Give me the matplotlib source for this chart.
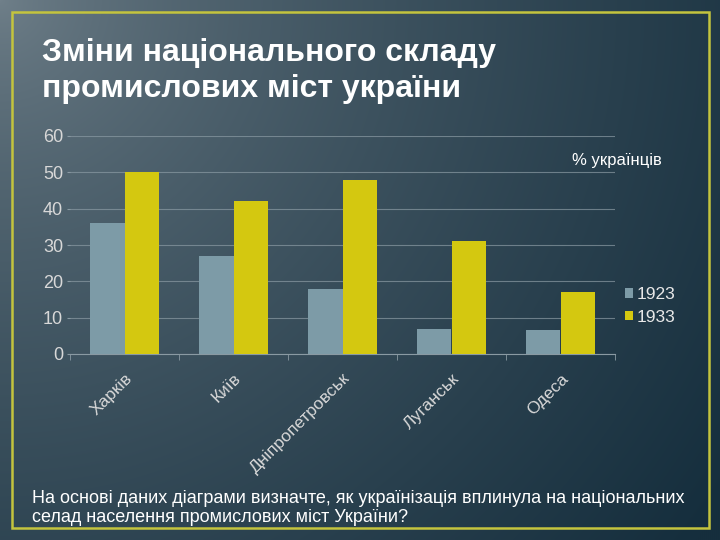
import matplotlib.pyplot as plt
import numpy as np

cities = ['Харків', 'Київ', 'Дніпропетровськ', 'Луганськ', 'Одеса']
ukr_1923 = [36, 27, 18, 7, 6.5]
ukr_1933 = [50, 42, 48, 31, 17]
years = ['1923', '1933']
yticks = [0, 10, 20, 30, 40, 50, 60]

title = 'Зміни національного складу\nпромислових міст україни'
note = 'На основі даних діаграми визначте, як українізація вплинула на національних\nселад населення промислових міст України?'

plt.rcParams['font.family'] = ['Liberation Sans', 'DejaVu Sans']

fig = plt.figure(figsize=(7.2, 5.4), dpi=100)

# фон: радіальний градієнт від лівого верхнього кута
bg = fig.add_axes([0, 0, 1, 1])
yy, xx = np.mgrid[0:540:270j, 0:720:360j]
t = np.clip(np.hypot(xx, yy) / 880, 0, 1) ** 0.7
c0 = np.array([0x70, 0x80, 0x8a]) / 255
c1 = np.array([0x15, 0x2e, 0x3d]) / 255
img = c0[None, None, :] * (1 - t[..., None]) + c1[None, None, :] * t[..., None]
bg.imshow(img, aspect='auto', extent=[0, 1, 1, 0], interpolation='bilinear')
bg.set_xlim(0, 1)
bg.set_ylim(1, 0)
bg.axis('off')

# рамка
bg.add_patch(plt.Rectangle((12 / 720, 12 / 540), 697 / 720, 516 / 540,
                           fill=False, edgecolor='#c4c43e', linewidth=1.8))

bg.text(42 / 720, 71 / 540, title, color='white', fontsize=23, fontweight='bold',
        va='center', ha='left', linespacing=1.22)
bg.text(32 / 720, 508 / 540, note, color='white', fontsize=13, va='center',
        ha='left', linespacing=1.22)

ax = fig.add_axes([70 / 720, 1 - 354 / 540, 545 / 720, 218 / 540])
ax.patch.set_alpha(0)
x = np.arange(len(cities))
w = 0.32
ax.bar(x - w / 2, ukr_1923, w, color='#7d9ba7', label=years[0], zorder=3)
ax.bar(x + w / 2, ukr_1933, w, color='#d4c810', label=years[1], zorder=3)

ax.set_xlim(-0.5, len(cities) - 0.5)
ax.set_ylim(0, 60)
ax.set_yticks(yticks)
ax.yaxis.grid(True, color='#8a9aa3', linewidth=0.8, alpha=0.7, zorder=0)
for s in ['top', 'right', 'left']:
    ax.spines[s].set_visible(False)
ax.spines['bottom'].set_color('#8a9aa3')
ax.tick_params(axis='y', colors='#d8d8d8', labelsize=13, length=2, pad=3,
               color='#8a9aa3')
ax.set_xticks(np.arange(len(cities) + 1) - 0.5, minor=True)
ax.set_xticks(x)
ax.set_xticklabels(cities, rotation=45, ha='right', rotation_mode='anchor',
                   color='#d8d8d8', fontsize=12.5)
ax.tick_params(axis='x', which='major', length=0, pad=12)
ax.tick_params(axis='x', which='minor', length=4, color='#8a9aa3')

ax.legend(loc='upper left', bbox_to_anchor=(1.0, 0.355), frameon=False,
          fontsize=12.5, labelcolor='#e8e8e8', handlelength=0.45, handleheight=0.45,
          handletextpad=0.2, labelspacing=0.45, borderaxespad=0.2)

bg.text(572 / 720, 160 / 540, '% українців', color='white', fontsize=12,
        va='center', ha='left')

fig.savefig('out.png', dpi=100)
